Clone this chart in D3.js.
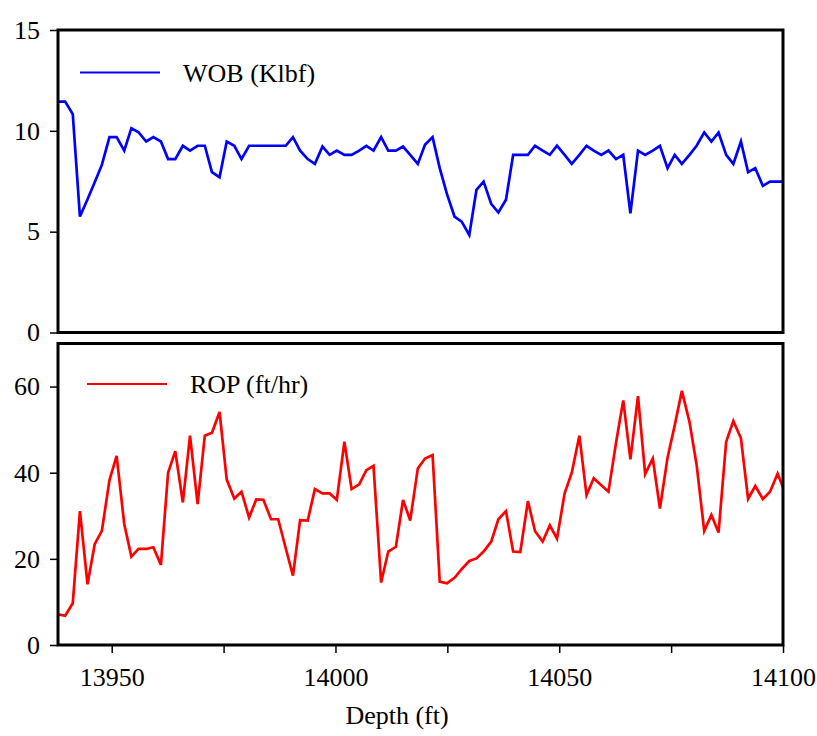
<!DOCTYPE html>
<html>
<head>
<meta charset="utf-8">
<script src="https://cdn.jsdelivr.net/npm/d3@7"></script>
<style>
  body { margin: 0; background: #fff; }
  svg text { font-family: "Liberation Serif", "Times New Roman", serif; fill: #000; }
</style>
</head>
<body>
<div class="chart"></div>
<script>
// depth (ft), one sample every 0.5 m
var depth = [
  13938.0, 13939.6, 13941.3, 13942.9, 13944.6, 13946.2, 13947.8, 13949.5, 13951.1, 13952.8,
  13954.4, 13956.0, 13957.7, 13959.3, 13961.0, 13962.6, 13964.2, 13965.9, 13967.5, 13969.2,
  13970.8, 13972.4, 13974.1, 13975.7, 13977.4, 13979.0, 13980.7, 13982.3, 13983.9, 13985.6,
  13987.2, 13988.9, 13990.5, 13992.1, 13993.8, 13995.4, 13997.1, 13998.7, 14000.3, 14002.0,
  14003.6, 14005.3, 14006.9, 14008.5, 14010.2, 14011.8, 14013.5, 14015.1, 14016.7, 14018.4,
  14020.0, 14021.7, 14023.3, 14024.9, 14026.6, 14028.2, 14029.9, 14031.5, 14033.1, 14034.8,
  14036.4, 14038.1, 14039.7, 14041.3, 14043.0, 14044.6, 14046.3, 14047.9, 14049.5, 14051.2,
  14052.8, 14054.5, 14056.1, 14057.7, 14059.4, 14061.0, 14062.7, 14064.3, 14065.9, 14067.6,
  14069.2, 14070.9, 14072.5, 14074.2, 14075.8, 14077.4, 14079.1, 14080.7, 14082.4, 14084.0,
  14085.6, 14087.3, 14088.9, 14090.6, 14092.2, 14093.8, 14095.5, 14097.1, 14098.8, 14100.4
];

var wob = [
  11.45, 11.45, 10.83, 5.75, 6.61, 7.45, 8.31, 9.69, 9.69, 9.02,
  10.13, 9.93, 9.47, 9.69, 9.47, 8.6, 8.6, 9.26, 9.02, 9.26,
  9.26, 7.95, 7.7, 9.47, 9.26, 8.6, 9.26, 9.26, 9.26, 9.26,
  9.26, 9.26, 9.69, 9.02, 8.6, 8.36, 9.22, 8.81, 9.02, 8.81,
  8.81, 9.02, 9.26, 9.02, 9.69, 9.02, 9.02, 9.22, 8.81, 8.36,
  9.31, 9.69, 8.15, 6.87, 5.75, 5.5, 4.84, 7.07, 7.48, 6.38,
  5.95, 6.58, 8.81, 8.81, 8.81, 9.26, 9.02, 8.81, 9.26, 8.81,
  8.36, 8.81, 9.26, 9.02, 8.81, 9.02, 8.6, 8.81, 5.91, 9.02,
  8.81, 9.02, 9.26, 8.15, 8.81, 8.36, 8.81, 9.26, 9.92, 9.47,
  9.92, 8.81, 8.36, 9.47, 7.95, 8.15, 7.27, 7.48, 7.48, 7.48
];

var rop = [
  7.1, 6.8, 9.7, 31.1, 14.1, 23.4, 26.5, 38.3, 43.9, 28.1,
  20.5, 22.3, 22.3, 22.7, 18.6, 40.0, 45.0, 33.1, 48.6, 32.7,
  48.6, 49.3, 54.1, 38.4, 34.0, 35.6, 29.6, 33.8, 33.7, 29.2,
  29.2, 22.4, 16.1, 29.0, 28.9, 36.2, 35.2, 35.2, 33.7, 47.2,
  36.2, 37.3, 40.6, 41.6, 14.5, 21.7, 22.8, 33.7, 28.9, 41.0,
  43.3, 44.1, 14.7, 14.3, 15.6, 17.6, 19.5, 20.1, 21.7, 24.0,
  29.2, 31.1, 21.7, 21.6, 33.4, 26.4, 24.0, 27.8, 24.7, 35.2,
  40.0, 48.6, 34.8, 38.7, 37.1, 35.6, 47.0, 56.8, 43.1, 57.8,
  39.7, 43.3, 31.7, 43.5, 51.0, 59.0, 51.8, 41.8, 26.5, 30.2,
  26.1, 47.2, 52.0, 48.0, 33.9, 36.9, 33.9, 35.6, 39.8, 35.5
];

var depthTicks = [13950, 13975, 14000, 14025, 14050, 14075, 14100];
var depthLabels = [13950, 14000, 14050, 14100];
var wobTicks = [0, 5, 10, 15];
var ropTicks = [0, 20, 40, 60];

var w = 817;
var h = 736;
var left = 58;
var right = 783;
var serif = "'Liberation Serif', 'Times New Roman', serif";

var svg = d3.select(".chart")
  .append("svg")
  .attr("width", w)
  .attr("height", h);

var xScale = d3.scaleLinear()
  .domain([13938, 14100])
  .range([left, right]);

function drawPanel(opts) {
  var yScale = d3.scaleLinear()
    .domain(opts.domain)
    .range([opts.bottom, opts.top]);

  svg.append("clipPath")
    .attr("id", opts.id)
    .append("rect")
    .attr("x", left)
    .attr("y", opts.top)
    .attr("width", right - left)
    .attr("height", opts.bottom - opts.top);

  var line = d3.line()
    .x(function(d, i) { return xScale(depth[i]); })
    .y(function(d) { return yScale(d); });

  svg.append("path")
    .datum(opts.values)
    .attr("clip-path", "url(#" + opts.id + ")")
    .attr("fill", "none")
    .attr("stroke", opts.color)
    .attr("stroke-width", 2.7)
    .attr("stroke-linejoin", "miter")
    .attr("d", line);

  var yAxis = d3.axisLeft(yScale)
    .tickValues(opts.ticks)
    .tickSize(8)
    .tickPadding(10);

  var gy = svg.append("g")
    .attr("transform", "translate(" + left + ",0)")
    .call(yAxis)
    .attr("font-family", serif);
  gy.select(".domain").remove();
  gy.selectAll(".tick line").attr("stroke", "#000").attr("stroke-width", 1.5);
  gy.selectAll(".tick text").attr("font-size", "26px").attr("fill", "#000");

  svg.append("rect")
    .attr("x", left)
    .attr("y", opts.top)
    .attr("width", right - left)
    .attr("height", opts.bottom - opts.top)
    .attr("fill", "none")
    .attr("stroke", "#000")
    .attr("stroke-width", 3);

  // legend
  svg.append("line")
    .attr("x1", opts.legX)
    .attr("x2", opts.legX + 80)
    .attr("y1", opts.legY)
    .attr("y2", opts.legY)
    .attr("stroke", opts.color)
    .attr("stroke-width", 2.2);

  svg.append("text")
    .attr("x", opts.legX + 103)
    .attr("y", opts.legY + 9)
    .attr("font-size", "26px")
    .text(opts.label);

  return yScale;
}

drawPanel({
  id: "clipWob", values: wob, domain: [0, 15], ticks: wobTicks,
  top: 30, bottom: 332.5, color: "#0000ff", label: "WOB (Klbf)",
  legX: 80, legY: 72.5
});

drawPanel({
  id: "clipRop", values: rop, domain: [0, 70], ticks: ropTicks,
  top: 343.5, bottom: 645, color: "#ff0000", label: "ROP (ft/hr)",
  legX: 87, legY: 384
});

var xAxis = d3.axisBottom(xScale)
  .tickValues(depthTicks)
  .tickSize(8)
  .tickPadding(15)
  .tickFormat(function(d) {
    return depthLabels.indexOf(d) >= 0 ? d : "";
  });

var gx = svg.append("g")
  .attr("transform", "translate(0,645)")
  .call(xAxis)
  .attr("font-family", serif);
gx.select(".domain").remove();
gx.selectAll(".tick line").attr("stroke", "#000").attr("stroke-width", 1.5);
gx.selectAll(".tick text").attr("font-size", "26px").attr("fill", "#000");

svg.append("text")
  .attr("x", 397)
  .attr("y", 724)
  .attr("text-anchor", "middle")
  .attr("font-size", "26px")
  .text("Depth (ft)");
</script>
</body>
</html>
